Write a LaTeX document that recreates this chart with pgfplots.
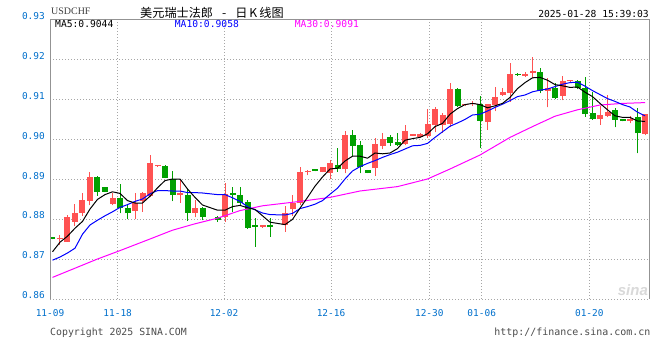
\documentclass[border=0pt]{standalone}
\usepackage{pgfplots}
\pgfplotsset{compat=1.18}
\usepackage{pgfplotstable}
\usepackage{fontspec}
\setmonofont{DejaVu Sans Mono}
\setsansfont{Liberation Sans}
\newfontfamily\cjk{Noto Sans CJK SC}
\newfontfamily\serifuc{Liberation Serif}
\definecolor{upred}{RGB}{255,82,82}
\definecolor{dngreen}{RGB}{0,160,0}
\definecolor{lblblue}{RGB}{0,112,204}
\definecolor{maten}{RGB}{0,0,255}
\definecolor{mathirty}{RGB}{255,0,255}

\pgfplotstableread{
x O H L C
1 0.8749 0.8760 0.8735 0.8751
2 0.8743 0.8809 0.8743 0.8806
3 0.8793 0.8837 0.8782 0.8816
4 0.8816 0.8866 0.8808 0.8848
5 0.8846 0.8918 0.8835 0.8906
8 0.8837 0.8866 0.8835 0.8852
11 0.8821 0.8864 0.8799 0.8839
12 0.8846 0.8868 0.8818 0.8866
13 0.8857 0.8960 0.8855 0.8939
14 0.8932 0.8934 0.8931 0.8934
17 0.8860 0.8898 0.8841 0.8864
19 0.8816 0.8848 0.8804 0.8827
23 0.8804 0.8891 0.8793 0.8863
28 0.8780 0.8781 0.8779 0.8781
31 0.8785 0.8833 0.8768 0.8814
32 0.8824 0.8860 0.8808 0.8841
33 0.8839 0.8931 0.8835 0.8918
34 0.8917 0.8923 0.8910 0.8919
36 0.8918 0.8930 0.8917 0.8929
37 0.8914 0.8948 0.8899 0.8941
39 0.8924 0.9021 0.8914 0.9010
43 0.8927 0.9002 0.8908 0.8988
44 0.8983 0.9016 0.8975 0.9000
47 0.8988 0.9035 0.8985 0.9020
48 0.9008 0.9011 0.9008 0.9010
49 0.9006 0.9014 0.9005 0.9013
50 0.9008 0.9074 0.9003 0.9038
51 0.9035 0.9080 0.9017 0.9074
52 0.9035 0.9065 0.9016 0.9060
53 0.9038 0.9141 0.9030 0.9125
55 0.9084 0.9086 0.9084 0.9086
56 0.9087 0.9095 0.9083 0.9089
58 0.9043 0.9088 0.9023 0.9088
59 0.9085 0.9131 0.9070 0.9104
60 0.9110 0.9128 0.9108 0.9118
61 0.9116 0.9191 0.9093 0.9163
63 0.9158 0.9168 0.9156 0.9160
64 0.9165 0.9206 0.9152 0.9167
66 0.9121 0.9152 0.9079 0.9127
68 0.9108 0.9157 0.9097 0.9146
69 0.9144 0.9146 0.9144 0.9146
73 0.9050 0.9083 0.9036 0.9060
74 0.9058 0.9110 0.9055 0.9068
77 0.9045 0.9057 0.9040 0.9050
79 0.9013 0.9062 0.9010 0.9062
}\up

\pgfplotstableread{
x O H L C
0 0.8752 0.8753 0.8749 0.8750
6 0.8906 0.8908 0.8858 0.8868
7 0.8879 0.8880 0.8867 0.8868
9 0.8852 0.8888 0.8814 0.8827
10 0.8827 0.8835 0.8799 0.8814
15 0.8933 0.8934 0.8902 0.8903
16 0.8899 0.8921 0.8845 0.8860
18 0.8860 0.8875 0.8796 0.8816
20 0.8827 0.8830 0.8797 0.8806
22 0.8806 0.8808 0.8793 0.8798
24 0.8864 0.8881 0.8818 0.8860
25 0.8860 0.8879 0.8835 0.8841
26 0.8843 0.8848 0.8775 0.8778
27 0.8782 0.8802 0.8731 0.8780
29 0.8785 0.8802 0.8756 0.8779
35 0.8922 0.8923 0.8920 0.8920
38 0.8935 0.8977 0.8918 0.8924
40 0.9010 0.9022 0.8957 0.8983
41 0.8985 0.8994 0.8914 0.8929
42 0.8922 0.8923 0.8915 0.8916
45 0.9006 0.9010 0.8983 0.8991
46 0.8993 0.9014 0.8983 0.8985
54 0.9125 0.9128 0.9080 0.9083
57 0.9088 0.9108 0.8978 0.9046
62 0.9163 0.9164 0.9158 0.9159
65 0.9167 0.9177 0.9115 0.9121
67 0.9127 0.9140 0.9100 0.9103
70 0.9145 0.9148 0.9125 0.9127
71 0.9127 0.9156 0.9056 0.9062
72 0.9066 0.9118 0.9048 0.9050
75 0.9073 0.9078 0.9029 0.9048
76 0.9050 0.9051 0.9044 0.9045
78 0.9054 0.9078 0.8964 0.9014
}\dn

\pgfplotsset{
  candle/.style 2 args={only marks, mark=*, mark size=0pt, mark options={draw=none, fill=none}, forget plot,
    error bars/.cd, y dir=plus, y explicit, error mark=none,
    error bar style={draw=#1, solid, line width=#2}},
}

\begin{document}
\begin{tikzpicture}[x=1bp,y=1bp]
\path[use as bounding box, fill=white] (0bp,0bp) rectangle (660bp,360bp);
\begin{axis}[
  name=ax,
  at={(50bp,61bp)}, anchor=south west,
  scale only axis, width=599.3bp, height=280bp,
  xmin=-0.333, xmax=79.573, ymin=0.86, ymax=0.93,
  xtick={-0.333,8.693,22.867,37.133,50.24,57.227,71.573},
  xticklabels={11-09,11-18,12-02,12-16,12-30,01-06,01-20},
  ytick={0.86,0.87,0.88,0.89,0.90,0.91,0.92,0.93},
  yticklabels={0.86,0.87,0.88,0.89,0.90,0.91,0.92,0.93},
  major tick length=0pt,
  grid=major,
  grid style={draw=gray!70, dash pattern=on 1bp off 2bp, line width=0.7bp},
  axis line style={draw=none},
  tick label style={font=\ttfamily\fontsize{9.5}{10}\selectfont, text=lblblue},
  xticklabel style={anchor=base, yshift=-17.5bp, inner sep=0pt},
  yticklabel style={anchor=base east, xshift=-5bp, inner sep=0pt},
]
% wicks
\addplot[candle={upred}{1bp}]
  table[x=x, y=L, y error plus expr={\thisrow{H}-\thisrow{L}}] {\up};
\addplot[candle={dngreen}{1bp}]
  table[x=x, y=L, y error plus expr={\thisrow{H}-\thisrow{L}}] {\dn};
% bodies
\addplot[candle={upred}{6bp}]
  table[x=x, y expr={min(\thisrow{O},\thisrow{C})}, y error plus expr={max(abs(\thisrow{C}-\thisrow{O}),0.0004)}] {\up};
\addplot[candle={dngreen}{6bp}]
  table[x=x, y expr={min(\thisrow{O},\thisrow{C})}, y error plus expr={max(abs(\thisrow{C}-\thisrow{O}),0.0004)}] {\dn};
% MA30
\addplot[mathirty, line width=1bp, mark=none] coordinates {
(0,0.8654)(6,0.8700)(9,0.8721)(13,0.8750)(16,0.8772)(19,0.8788)(22,0.8802)(25,0.8821)(28,0.8833)(33,0.8844)(37,0.8854)(41,0.8870)(46,0.8881)(50,0.8900)(53,0.8925)(57,0.8960)(61,0.9004)(64,0.9031)(67,0.9057)(70,0.9073)(73,0.9085)(76,0.9089)(79,0.9091)};
% MA10
\addplot[maten, line width=1bp, mark=none] coordinates {
(0,0.8697)(1,0.8705)(2,0.8715)(3,0.8727)(4,0.8762)(5,0.8785)(6,0.8797)(7,0.8808)(8,0.8818)(9,0.8829)(10,0.8836)(11,0.8844)(12,0.8850)(13,0.8863)(14,0.8871)(15,0.8871)(16,0.8870)(17,0.8870)(18,0.8866)(19,0.8866)(20,0.8865)(22,0.8861)(23,0.8861)(24,0.8853)(25,0.8844)(26,0.8831)(27,0.8823)(28,0.8815)(29,0.8811)(31,0.8810)(32,0.8814)(33,0.8826)(34,0.8831)(35,0.8837)(36,0.8846)(37,0.8862)(38,0.8877)(39,0.8900)(40,0.8920)(41,0.8931)(42,0.8939)(43,0.8946)(44,0.8954)(45,0.8961)(46,0.8967)(47,0.8975)(48,0.8983)(49,0.8984)(50,0.8989)(51,0.9004)(52,0.9018)(53,0.9032)(54,0.9040)(55,0.9049)(56,0.9060)(57,0.9062)(58,0.9070)(59,0.9079)(60,0.9087)(61,0.9096)(62,0.9106)(63,0.9110)(64,0.9118)(65,0.9122)(66,0.9125)(67,0.9131)(68,0.9137)(69,0.9141)(70,0.9142)(71,0.9132)(72,0.9121)(73,0.9111)(74,0.9101)(75,0.9094)(76,0.9086)(77,0.9080)(78,0.9067)(79,0.9058)};
% MA5
\addplot[black, line width=1bp, mark=none] coordinates {
(0,0.8718)(1,0.8742)(2,0.8757)(3,0.8777)(4,0.8794)(5,0.8825)(6,0.8849)(7,0.8861)(8,0.8868)(9,0.8864)(10,0.8846)(11,0.8840)(12,0.8840)(13,0.8857)(14,0.8878)(15,0.8896)(16,0.8900)(17,0.8900)(18,0.8875)(19,0.8854)(20,0.8835)(22,0.8822)(23,0.8822)(24,0.8831)(25,0.8834)(26,0.8828)(27,0.8824)(28,0.8808)(29,0.8792)(31,0.8786)(32,0.8799)(33,0.8827)(34,0.8854)(35,0.8882)(36,0.8905)(37,0.8925)(38,0.8927)(39,0.8945)(40,0.8957)(41,0.8957)(42,0.8952)(43,0.8965)(44,0.8963)(45,0.8965)(46,0.8976)(47,0.8997)(48,0.9001)(49,0.9004)(50,0.9013)(51,0.9031)(52,0.9039)(53,0.9062)(54,0.9076)(55,0.9086)(56,0.9089)(57,0.9086)(58,0.9078)(59,0.9083)(60,0.9089)(61,0.9104)(62,0.9126)(63,0.9141)(64,0.9153)(65,0.9154)(66,0.9147)(67,0.9136)(68,0.9133)(69,0.9129)(70,0.9130)(71,0.9117)(72,0.9106)(73,0.9089)(74,0.9073)(75,0.9058)(76,0.9054)(77,0.9054)(78,0.9045)(79,0.9044)};
\end{axis}
% frame
\draw[gray!85, line width=0.8bp] (ax.south west) -- (ax.north west) -- (ax.north east) -- (ax.south east);
% header texts
\node[anchor=base west, inner sep=0pt, text=black!75] at (51bp,345bp) {\serifuc\fontsize{10}{10}\selectfont USDCHF};
\node[anchor=base west, inner sep=0pt] at (140bp,342.5bp) {\cjk\fontsize{12.2}{13}\selectfont 美元瑞士法郎\hspace{9bp}-\hspace{9bp}日\hspace{2bp}K\hspace{2bp}线图};
\node[anchor=base east, inner sep=0pt] at (649bp,342bp) {\ttfamily\fontsize{9.7}{10}\selectfont 2025-01-28 15:39:03};
% MA legend
\node[anchor=base west, inner sep=0pt] at (55bp,332.7bp) {\ttfamily\fontsize{9.7}{10}\selectfont MA5:0.9044};
\node[anchor=base west, inner sep=0pt, text=maten] at (174.7bp,332.7bp) {\ttfamily\fontsize{9.7}{10}\selectfont MA10:0.9058};
\node[anchor=base west, inner sep=0pt, text=mathirty] at (294.7bp,332.7bp) {\ttfamily\fontsize{9.7}{10}\selectfont MA30:0.9091};
% watermark
\node[anchor=base east, inner sep=0pt, text=gray!30] at (648bp,64bp) {\sffamily\bfseries\itshape\fontsize{15}{15}\selectfont sina};
% footer
\node[anchor=base west, inner sep=0pt, text=black!70] at (50bp,24.5bp) {\ttfamily\fontsize{9.9}{10}\selectfont Copyright 2025 SINA.COM};
\node[anchor=base east, inner sep=0pt, text=black!70] at (650.5bp,24.5bp) {\ttfamily\fontsize{10}{10}\selectfont http://finance.sina.com.cn};
\end{tikzpicture}
\end{document}
